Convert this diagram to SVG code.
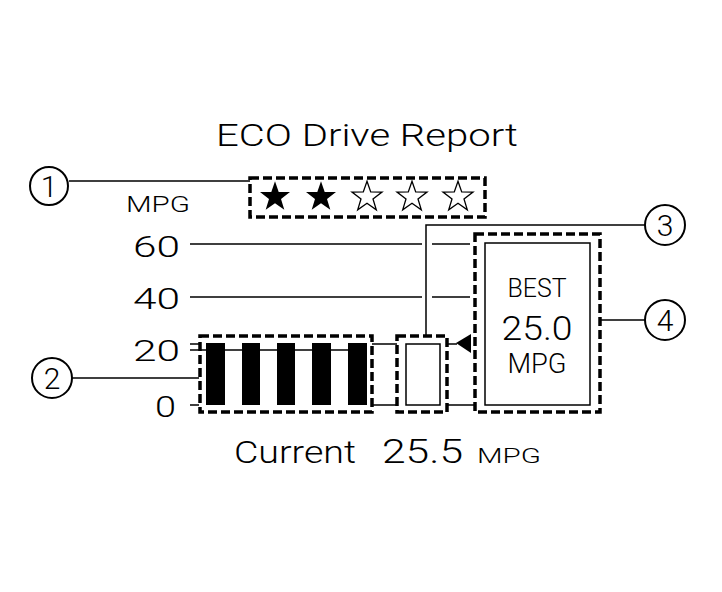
<svg xmlns="http://www.w3.org/2000/svg" width="722" height="592" viewBox="0 0 722 592">
<style>
text{font-family:Roboto,"Liberation Sans",Arial,sans-serif;font-weight:300;fill:#000}
.dash{fill:none;stroke:#000;stroke-width:3.5;stroke-dasharray:9 4}
.thin{fill:none;stroke:#000;stroke-width:1.5}
.grid{stroke:#000;stroke-width:1.3;fill:none}
.callout{fill:#fff;stroke:#000;stroke-width:2}
.num{font-size:30px;text-anchor:middle}
</style>
<defs>
<path id="star" d="M0,-15.8 L3.7,-5.1 L15,-4.9 L6,1.9 L9.3,12.8 L0,6.3 L-9.3,12.8 L-6,1.9 L-15,-4.9 L-3.7,-5.1 Z"/>
</defs>
<rect width="722" height="592" fill="#fff"/>
<text x="216" y="146" font-size="31" textLength="302" lengthAdjust="spacingAndGlyphs">ECO Drive Report</text>
<text x="126" y="212" font-size="22" textLength="64" lengthAdjust="spacingAndGlyphs">MPG</text>
<g id="axis-labels" font-size="30">
<text x="180" y="257" text-anchor="end" textLength="47" lengthAdjust="spacingAndGlyphs">60</text>
<text x="180" y="309" text-anchor="end" textLength="47" lengthAdjust="spacingAndGlyphs">40</text>
<text x="180" y="361" text-anchor="end" textLength="47" lengthAdjust="spacingAndGlyphs">20</text>
<text x="176" y="417" text-anchor="end" textLength="21" lengthAdjust="spacingAndGlyphs">0</text>
</g>
<g id="connectors">
<path class="grid" d="M190,244H422M432,244H470M190,297H422M432,297H470M190,344H199M372,344H397M447,344H457M190,350H366M190,405H199M372,405H397M447,405H475"/>
<path class="thin" d="M69,181H250M72,378H199M426,335V225H645M600,320H645"/>
<path d="M456,343L471,334L471,353Z" fill="#000"/>
</g>
<g id="rating">
<rect class="dash" x="250" y="178" width="235" height="39"/>
<use href="#star" x="275" y="197" fill="#000"/>
<use href="#star" x="321" y="197" fill="#000"/>
<use href="#star" x="367" y="197" fill="#fff" stroke="#000" stroke-width="1.3"/>
<use href="#star" x="412" y="197" fill="#fff" stroke="#000" stroke-width="1.3"/>
<use href="#star" x="458" y="197" fill="#fff" stroke="#000" stroke-width="1.3"/>
</g>
<g id="history-bar">
<rect class="dash" x="200" y="336" width="172" height="76"/>
<g fill="#000">
<rect x="206" y="343" width="19" height="62"/>
<rect x="242" y="343" width="18" height="62"/>
<rect x="277" y="343" width="18" height="62"/>
<rect x="312" y="343" width="19" height="62"/>
<rect x="348" y="343" width="19" height="62"/>
</g>
</g>
<g id="current-bar">
<rect class="dash" x="397" y="336" width="50" height="76"/>
<rect class="thin" x="406" y="344" width="34" height="61"/>
</g>
<g id="best">
<rect class="dash" x="475" y="234" width="125" height="178"/>
<rect class="thin" x="485" y="243" width="105" height="162"/>
<text x="537" y="297" font-size="25" text-anchor="middle" textLength="59" lengthAdjust="spacingAndGlyphs">BEST</text>
<text x="537" y="340" font-size="34" text-anchor="middle" textLength="71" lengthAdjust="spacingAndGlyphs">25.0</text>
<text x="537" y="373" font-size="28" text-anchor="middle" textLength="59" lengthAdjust="spacingAndGlyphs">MPG</text>
</g>
<g id="current">
<text x="234" y="463" font-size="32" textLength="122" lengthAdjust="spacingAndGlyphs">Current</text>
<text x="382" y="463" font-size="34" textLength="81" lengthAdjust="spacingAndGlyphs">25.5</text>
<text x="477" y="463" font-size="21" textLength="64" lengthAdjust="spacingAndGlyphs">MPG</text>
</g>
<g id="c1"><circle class="callout" cx="49" cy="186" r="19"/><text class="num" x="49" y="197">1</text></g>
<g id="c2"><circle class="callout" cx="52" cy="378" r="20"/><text class="num" x="52" y="389">2</text></g>
<g id="c3"><circle class="callout" cx="665" cy="225" r="20"/><text class="num" x="665" y="236">3</text></g>
<g id="c4"><circle class="callout" cx="665" cy="320" r="20"/><text class="num" x="665" y="331">4</text></g>
</svg>
